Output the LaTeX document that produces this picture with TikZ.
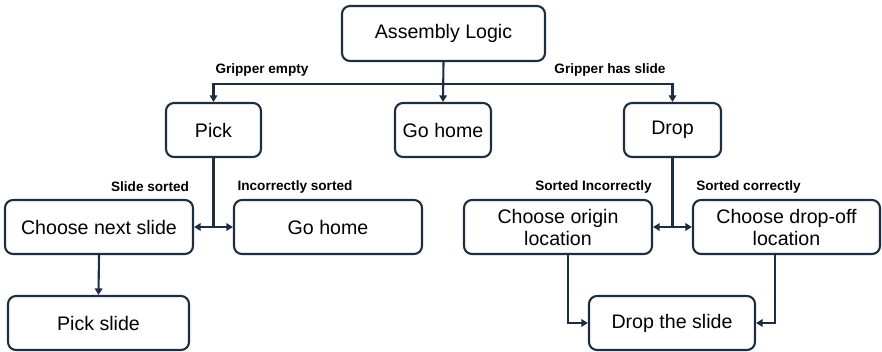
\documentclass[tikz,border=0pt]{standalone}
\usepackage{fontspec}
\setmainfont{Liberation Sans}
\usetikzlibrary{arrows.meta}
\definecolor{navy}{RGB}{28,46,68}
\tikzset{
  box/.style={draw=navy, line width=2.1pt, rounded corners=8pt, fill=white,
    text=black, font=\fontsize{19.6}{22}\selectfont, align=center,
    inner sep=0pt, minimum height=54pt},
  tag/.style={font=\bfseries\fontsize{13.6}{15}\selectfont, text=black, inner sep=0pt},
  link/.style={draw=navy, line width=2.1pt},
  arr/.style={link, -{Triangle[length=6.5pt,width=7.5pt]}}
}
\begin{document}
\begin{tikzpicture}[x=1pt, y=-1pt]
  \useasboundingbox (0,0) rectangle (882,351);

  % boxes
  \node[box, minimum width=203pt, minimum height=55pt] (al) at (443.5,33.5) {Assembly Logic};
  \node[box, minimum width=95pt] (pick) at (213.5,130) {Pick};
  \node[box, minimum width=96pt] (home) at (443,130) {Go home};
  \node[box, minimum width=97pt] (drop) at (672.5,130) {Drop};
  \node[box, minimum width=188pt] (next) at (99,227) {Choose next slide};
  \node[box, minimum width=188pt] (home2) at (328,227) {Go home};
  \node[box, minimum width=181pt] (pslide) at (98.5,323) {Pick slide};
  \node[box, minimum width=188pt] (origin) at (558,227) {Choose origin\\location};
  \node[box, minimum width=187pt] (dropoff) at (786.5,227) {Choose drop-off\\location};
  \node[box, minimum width=166pt] (dslide) at (672,323) {Drop the slide};

  % branch labels
  \node[tag] (l1) at (262,70) {Gripper empty};
  \node[tag] (l2) at (610,70) {Gripper has slide};
  \node[tag] (l3) at (150,187) {Slide sorted};
  \node[tag] (l4) at (295,187) {Incorrectly sorted};
  \node[tag] (l5) at (593.5,187) {Sorted Incorrectly};
  \node[tag] (l6) at (748.5,187) {Sorted correctly};

  % junctions
  \coordinate (j1) at (al.south |- 0,84);
  \coordinate (j2) at (pick.south |- next.east);
  \coordinate (j3) at (drop.south |- origin.east);

  % connectors
  \draw[arr] (al.south) -- (home.north);
  \draw[arr] (j1) -| (pick.north);
  \draw[arr] (j1) -| (drop.north);

  \draw[link] (pick.south) -- (j2);
  \draw[arr] (j2) -- (next.east);
  \draw[arr] (j2) -- (home2.west);
  \draw[arr] (next.south) -- (pslide.north);

  \draw[link] (drop.south) -- (j3);
  \draw[arr] (j3) -- (origin.east);
  \draw[arr] (j3) -- (dropoff.west);
  \draw[arr] ([xshift=10pt]origin.south) |- (dslide.west);
  \draw[arr] ([xshift=-11.5pt]dropoff.south) |- (dslide.east);
\end{tikzpicture}
\end{document}
